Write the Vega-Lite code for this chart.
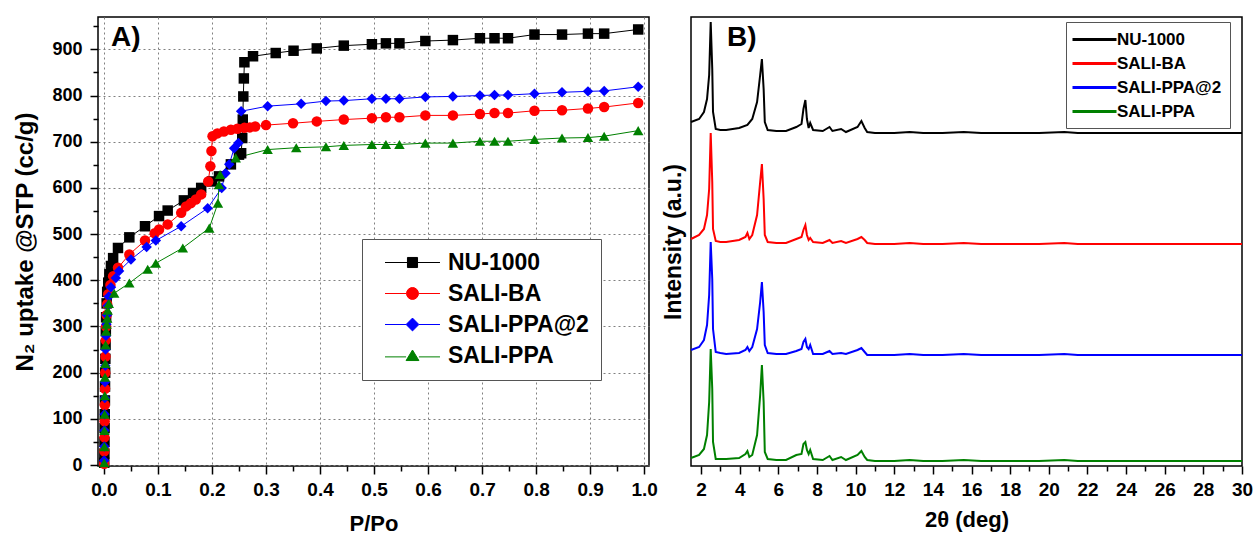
{
"$schema": "https://vega.github.io/schema/vega-lite/v6.json",
"background": "white",
"padding": {"left": 13, "top": 16, "right": 0, "bottom": 0},
"spacing": 2,
"config": {
  "font": "Liberation Sans",
  "view": {"stroke": "black", "strokeWidth": 1.5},
  "axis": {"labelFont": "Liberation Sans", "labelFontWeight": "bold", "labelColor": "black", "titleFont": "Liberation Sans", "titleFontWeight": "bold", "titleColor": "black", "tickColor": "black", "tickWidth": 1.5, "domain": false, "labelOverlap": false, "labelBound": false, "labelFlush": false}
},
"resolve": {"scale": {"color": "independent"}, "legend": {"color": "independent"}},
"datasets": {
"iso": [
{"s":"NU-1000","p":0.0005,"v":5},{"s":"NU-1000","p":0.0008,"v":25},{"s":"NU-1000","p":0.001,"v":50},{"s":"NU-1000","p":0.0012,"v":80},{"s":"NU-1000","p":0.0015,"v":110},{"s":"NU-1000","p":0.0018,"v":140},{"s":"NU-1000","p":0.002,"v":170},{"s":"NU-1000","p":0.0023,"v":200},{"s":"NU-1000","p":0.0026,"v":230},{"s":"NU-1000","p":0.003,"v":260},{"s":"NU-1000","p":0.0035,"v":290},{"s":"NU-1000","p":0.004,"v":320},{"s":"NU-1000","p":0.005,"v":350},{"s":"NU-1000","p":0.006,"v":375},{"s":"NU-1000","p":0.008,"v":395},{"s":"NU-1000","p":0.01,"v":413},{"s":"NU-1000","p":0.013,"v":431},{"s":"NU-1000","p":0.017,"v":448},{"s":"NU-1000","p":0.026,"v":470},{"s":"NU-1000","p":0.047,"v":493},{"s":"NU-1000","p":0.076,"v":517},{"s":"NU-1000","p":0.102,"v":539},{"s":"NU-1000","p":0.118,"v":551},{"s":"NU-1000","p":0.148,"v":573},{"s":"NU-1000","p":0.165,"v":589},{"s":"NU-1000","p":0.18,"v":600},{"s":"NU-1000","p":0.2,"v":614},{"s":"NU-1000","p":0.213,"v":625},{"s":"NU-1000","p":0.235,"v":651},{"s":"NU-1000","p":0.25,"v":672},{"s":"NU-1000","p":0.254,"v":675},{"s":"NU-1000","p":0.256,"v":708},{"s":"NU-1000","p":0.257,"v":748},{"s":"NU-1000","p":0.258,"v":798},{"s":"NU-1000","p":0.259,"v":837},{"s":"NU-1000","p":0.26,"v":872},{"s":"NU-1000","p":0.276,"v":885},{"s":"NU-1000","p":0.318,"v":892},{"s":"NU-1000","p":0.351,"v":897},{"s":"NU-1000","p":0.394,"v":902},{"s":"NU-1000","p":0.444,"v":908},{"s":"NU-1000","p":0.496,"v":911},{"s":"NU-1000","p":0.522,"v":913},{"s":"NU-1000","p":0.547,"v":913},{"s":"NU-1000","p":0.595,"v":918},{"s":"NU-1000","p":0.646,"v":920},{"s":"NU-1000","p":0.696,"v":924},{"s":"NU-1000","p":0.723,"v":924},{"s":"NU-1000","p":0.748,"v":924},{"s":"NU-1000","p":0.797,"v":932},{"s":"NU-1000","p":0.848,"v":932},{"s":"NU-1000","p":0.896,"v":934},{"s":"NU-1000","p":0.926,"v":934},{"s":"NU-1000","p":0.989,"v":943},
{"s":"SALI-BA","p":0.0004,"v":3},{"s":"SALI-BA","p":0.0007,"v":30},{"s":"SALI-BA","p":0.001,"v":60},{"s":"SALI-BA","p":0.0013,"v":95},{"s":"SALI-BA","p":0.0016,"v":130},{"s":"SALI-BA","p":0.002,"v":165},{"s":"SALI-BA","p":0.0024,"v":200},{"s":"SALI-BA","p":0.0028,"v":235},{"s":"SALI-BA","p":0.0033,"v":270},{"s":"SALI-BA","p":0.004,"v":300},{"s":"SALI-BA","p":0.005,"v":325},{"s":"SALI-BA","p":0.006,"v":348},{"s":"SALI-BA","p":0.008,"v":370},{"s":"SALI-BA","p":0.012,"v":390},{"s":"SALI-BA","p":0.017,"v":409},{"s":"SALI-BA","p":0.026,"v":427},{"s":"SALI-BA","p":0.047,"v":456},{"s":"SALI-BA","p":0.076,"v":486},{"s":"SALI-BA","p":0.094,"v":502},{"s":"SALI-BA","p":0.102,"v":510},{"s":"SALI-BA","p":0.118,"v":521},{"s":"SALI-BA","p":0.143,"v":546},{"s":"SALI-BA","p":0.152,"v":560},{"s":"SALI-BA","p":0.161,"v":567},{"s":"SALI-BA","p":0.17,"v":575},{"s":"SALI-BA","p":0.18,"v":586},{"s":"SALI-BA","p":0.193,"v":614},{"s":"SALI-BA","p":0.197,"v":647},{"s":"SALI-BA","p":0.199,"v":680},{"s":"SALI-BA","p":0.201,"v":712},{"s":"SALI-BA","p":0.21,"v":718},{"s":"SALI-BA","p":0.222,"v":722},{"s":"SALI-BA","p":0.235,"v":726},{"s":"SALI-BA","p":0.247,"v":728},{"s":"SALI-BA","p":0.26,"v":730},{"s":"SALI-BA","p":0.27,"v":731},{"s":"SALI-BA","p":0.28,"v":733},{"s":"SALI-BA","p":0.3,"v":736},{"s":"SALI-BA","p":0.35,"v":740},{"s":"SALI-BA","p":0.394,"v":744},{"s":"SALI-BA","p":0.444,"v":748},{"s":"SALI-BA","p":0.496,"v":751},{"s":"SALI-BA","p":0.522,"v":753},{"s":"SALI-BA","p":0.547,"v":753},{"s":"SALI-BA","p":0.595,"v":757},{"s":"SALI-BA","p":0.646,"v":757},{"s":"SALI-BA","p":0.696,"v":760},{"s":"SALI-BA","p":0.723,"v":762},{"s":"SALI-BA","p":0.748,"v":762},{"s":"SALI-BA","p":0.797,"v":767},{"s":"SALI-BA","p":0.848,"v":768},{"s":"SALI-BA","p":0.896,"v":772},{"s":"SALI-BA","p":0.926,"v":775},{"s":"SALI-BA","p":0.989,"v":784},
{"s":"SALI-PPA@2","p":0.0005,"v":10},{"s":"SALI-PPA@2","p":0.0008,"v":40},{"s":"SALI-PPA@2","p":0.001,"v":75},{"s":"SALI-PPA@2","p":0.0013,"v":110},{"s":"SALI-PPA@2","p":0.0016,"v":145},{"s":"SALI-PPA@2","p":0.002,"v":180},{"s":"SALI-PPA@2","p":0.0025,"v":215},{"s":"SALI-PPA@2","p":0.003,"v":250},{"s":"SALI-PPA@2","p":0.0037,"v":280},{"s":"SALI-PPA@2","p":0.0045,"v":305},{"s":"SALI-PPA@2","p":0.0055,"v":325},{"s":"SALI-PPA@2","p":0.007,"v":345},{"s":"SALI-PPA@2","p":0.009,"v":365},{"s":"SALI-PPA@2","p":0.013,"v":385},{"s":"SALI-PPA@2","p":0.022,"v":405},{"s":"SALI-PPA@2","p":0.028,"v":420},{"s":"SALI-PPA@2","p":0.05,"v":445},{"s":"SALI-PPA@2","p":0.079,"v":472},{"s":"SALI-PPA@2","p":0.096,"v":486},{"s":"SALI-PPA@2","p":0.143,"v":517},{"s":"SALI-PPA@2","p":0.192,"v":556},{"s":"SALI-PPA@2","p":0.218,"v":600},{"s":"SALI-PPA@2","p":0.225,"v":632},{"s":"SALI-PPA@2","p":0.232,"v":651},{"s":"SALI-PPA@2","p":0.241,"v":686},{"s":"SALI-PPA@2","p":0.249,"v":697},{"s":"SALI-PPA@2","p":0.254,"v":766},{"s":"SALI-PPA@2","p":0.303,"v":777},{"s":"SALI-PPA@2","p":0.365,"v":782},{"s":"SALI-PPA@2","p":0.411,"v":788},{"s":"SALI-PPA@2","p":0.444,"v":789},{"s":"SALI-PPA@2","p":0.496,"v":793},{"s":"SALI-PPA@2","p":0.522,"v":793},{"s":"SALI-PPA@2","p":0.547,"v":793},{"s":"SALI-PPA@2","p":0.595,"v":797},{"s":"SALI-PPA@2","p":0.646,"v":798},{"s":"SALI-PPA@2","p":0.696,"v":800},{"s":"SALI-PPA@2","p":0.723,"v":801},{"s":"SALI-PPA@2","p":0.748,"v":801},{"s":"SALI-PPA@2","p":0.797,"v":804},{"s":"SALI-PPA@2","p":0.848,"v":807},{"s":"SALI-PPA@2","p":0.896,"v":809},{"s":"SALI-PPA@2","p":0.926,"v":810},{"s":"SALI-PPA@2","p":0.989,"v":819},
{"s":"SALI-PPA","p":0.0005,"v":5},{"s":"SALI-PPA","p":0.0008,"v":40},{"s":"SALI-PPA","p":0.001,"v":75},{"s":"SALI-PPA","p":0.0013,"v":110},{"s":"SALI-PPA","p":0.0016,"v":150},{"s":"SALI-PPA","p":0.002,"v":190},{"s":"SALI-PPA","p":0.0025,"v":220},{"s":"SALI-PPA","p":0.003,"v":260},{"s":"SALI-PPA","p":0.004,"v":290},{"s":"SALI-PPA","p":0.005,"v":305},{"s":"SALI-PPA","p":0.006,"v":318},{"s":"SALI-PPA","p":0.007,"v":335},{"s":"SALI-PPA","p":0.009,"v":350},{"s":"SALI-PPA","p":0.019,"v":372},{"s":"SALI-PPA","p":0.047,"v":394},{"s":"SALI-PPA","p":0.081,"v":424},{"s":"SALI-PPA","p":0.096,"v":437},{"s":"SALI-PPA","p":0.146,"v":470},{"s":"SALI-PPA","p":0.195,"v":513},{"s":"SALI-PPA","p":0.211,"v":567},{"s":"SALI-PPA","p":0.213,"v":607},{"s":"SALI-PPA","p":0.215,"v":629},{"s":"SALI-PPA","p":0.244,"v":665},{"s":"SALI-PPA","p":0.303,"v":683},{"s":"SALI-PPA","p":0.356,"v":687},{"s":"SALI-PPA","p":0.411,"v":689},{"s":"SALI-PPA","p":0.444,"v":692},{"s":"SALI-PPA","p":0.496,"v":694},{"s":"SALI-PPA","p":0.522,"v":694},{"s":"SALI-PPA","p":0.547,"v":694},{"s":"SALI-PPA","p":0.595,"v":697},{"s":"SALI-PPA","p":0.646,"v":697},{"s":"SALI-PPA","p":0.696,"v":701},{"s":"SALI-PPA","p":0.723,"v":701},{"s":"SALI-PPA","p":0.748,"v":701},{"s":"SALI-PPA","p":0.797,"v":705},{"s":"SALI-PPA","p":0.848,"v":708},{"s":"SALI-PPA","p":0.896,"v":709},{"s":"SALI-PPA","p":0.926,"v":712},{"s":"SALI-PPA","p":0.989,"v":724}
],
"xrd": [
{"s":"NU-1000","t":1.48,"i":344},{"s":"NU-1000","t":1.9,"i":347},{"s":"NU-1000","t":2.15,"i":354},{"s":"NU-1000","t":2.31,"i":367},{"s":"NU-1000","t":2.42,"i":391},{"s":"NU-1000","t":2.5,"i":444},{"s":"NU-1000","t":2.58,"i":397},{"s":"NU-1000","t":2.62,"i":354},{"s":"NU-1000","t":2.76,"i":337},{"s":"NU-1000","t":3.0,"i":336},{"s":"NU-1000","t":3.3,"i":336},{"s":"NU-1000","t":3.97,"i":338},{"s":"NU-1000","t":4.4,"i":341},{"s":"NU-1000","t":4.65,"i":347},{"s":"NU-1000","t":4.9,"i":364},{"s":"NU-1000","t":5.06,"i":391},{"s":"NU-1000","t":5.15,"i":407},{"s":"NU-1000","t":5.24,"i":377},{"s":"NU-1000","t":5.3,"i":344},{"s":"NU-1000","t":5.45,"i":336},{"s":"NU-1000","t":5.9,"i":335},{"s":"NU-1000","t":6.4,"i":335},{"s":"NU-1000","t":6.93,"i":339},{"s":"NU-1000","t":7.2,"i":342},{"s":"NU-1000","t":7.3,"i":357},{"s":"NU-1000","t":7.4,"i":366},{"s":"NU-1000","t":7.48,"i":347},{"s":"NU-1000","t":7.57,"i":338},{"s":"NU-1000","t":7.65,"i":343},{"s":"NU-1000","t":7.8,"i":336},{"s":"NU-1000","t":8.3,"i":335},{"s":"NU-1000","t":8.65,"i":339},{"s":"NU-1000","t":8.8,"i":335},{"s":"NU-1000","t":9.25,"i":337},{"s":"NU-1000","t":9.5,"i":334},{"s":"NU-1000","t":10.1,"i":339},{"s":"NU-1000","t":10.3,"i":345},{"s":"NU-1000","t":10.47,"i":338},{"s":"NU-1000","t":10.6,"i":334},{"s":"NU-1000","t":11,"i":333},{"s":"NU-1000","t":12,"i":333},{"s":"NU-1000","t":12.8,"i":334},{"s":"NU-1000","t":13.5,"i":333},{"s":"NU-1000","t":14.5,"i":333},{"s":"NU-1000","t":15.6,"i":334},{"s":"NU-1000","t":16.5,"i":333},{"s":"NU-1000","t":17.5,"i":333},{"s":"NU-1000","t":18.5,"i":333},{"s":"NU-1000","t":19.5,"i":333},{"s":"NU-1000","t":20.8,"i":334},{"s":"NU-1000","t":21.5,"i":333},{"s":"NU-1000","t":22.5,"i":333},{"s":"NU-1000","t":23.5,"i":333},{"s":"NU-1000","t":24.5,"i":333},{"s":"NU-1000","t":25.5,"i":333},{"s":"NU-1000","t":26.5,"i":333},{"s":"NU-1000","t":27.5,"i":333},{"s":"NU-1000","t":28.5,"i":333},{"s":"NU-1000","t":29.5,"i":333},{"s":"NU-1000","t":30,"i":333},
{"s":"SALI-BA","t":1.48,"i":227},{"s":"SALI-BA","t":1.9,"i":231},{"s":"SALI-BA","t":2.15,"i":237},{"s":"SALI-BA","t":2.31,"i":251},{"s":"SALI-BA","t":2.42,"i":277},{"s":"SALI-BA","t":2.5,"i":333},{"s":"SALI-BA","t":2.58,"i":284},{"s":"SALI-BA","t":2.62,"i":237},{"s":"SALI-BA","t":2.76,"i":225},{"s":"SALI-BA","t":3.0,"i":224},{"s":"SALI-BA","t":3.3,"i":224},{"s":"SALI-BA","t":3.97,"i":226},{"s":"SALI-BA","t":4.3,"i":229},{"s":"SALI-BA","t":4.4,"i":233},{"s":"SALI-BA","t":4.5,"i":227},{"s":"SALI-BA","t":4.65,"i":231},{"s":"SALI-BA","t":4.9,"i":251},{"s":"SALI-BA","t":5.06,"i":284},{"s":"SALI-BA","t":5.15,"i":302},{"s":"SALI-BA","t":5.24,"i":267},{"s":"SALI-BA","t":5.3,"i":231},{"s":"SALI-BA","t":5.45,"i":224},{"s":"SALI-BA","t":5.9,"i":223},{"s":"SALI-BA","t":6.4,"i":223},{"s":"SALI-BA","t":6.93,"i":227},{"s":"SALI-BA","t":7.2,"i":229},{"s":"SALI-BA","t":7.3,"i":236},{"s":"SALI-BA","t":7.4,"i":241},{"s":"SALI-BA","t":7.48,"i":231},{"s":"SALI-BA","t":7.57,"i":226},{"s":"SALI-BA","t":7.65,"i":228},{"s":"SALI-BA","t":7.8,"i":224},{"s":"SALI-BA","t":8.3,"i":223},{"s":"SALI-BA","t":8.65,"i":226},{"s":"SALI-BA","t":8.8,"i":223},{"s":"SALI-BA","t":9.25,"i":225},{"s":"SALI-BA","t":9.5,"i":223},{"s":"SALI-BA","t":10.1,"i":227},{"s":"SALI-BA","t":10.3,"i":229},{"s":"SALI-BA","t":10.47,"i":226},{"s":"SALI-BA","t":10.6,"i":223},{"s":"SALI-BA","t":11,"i":222},{"s":"SALI-BA","t":12,"i":222},{"s":"SALI-BA","t":12.8,"i":223},{"s":"SALI-BA","t":13.5,"i":222},{"s":"SALI-BA","t":14.5,"i":222},{"s":"SALI-BA","t":15.6,"i":223},{"s":"SALI-BA","t":16.5,"i":222},{"s":"SALI-BA","t":17.5,"i":222},{"s":"SALI-BA","t":18.5,"i":222},{"s":"SALI-BA","t":19.5,"i":222},{"s":"SALI-BA","t":20.8,"i":223},{"s":"SALI-BA","t":21.5,"i":222},{"s":"SALI-BA","t":22.5,"i":222},{"s":"SALI-BA","t":23.5,"i":222},{"s":"SALI-BA","t":24.5,"i":222},{"s":"SALI-BA","t":25.5,"i":222},{"s":"SALI-BA","t":26.5,"i":222},{"s":"SALI-BA","t":27.5,"i":222},{"s":"SALI-BA","t":28.5,"i":222},{"s":"SALI-BA","t":29.5,"i":222},{"s":"SALI-BA","t":30,"i":222},
{"s":"SALI-PPA@2","t":1.48,"i":116},{"s":"SALI-PPA@2","t":1.9,"i":119},{"s":"SALI-PPA@2","t":2.15,"i":126},{"s":"SALI-PPA@2","t":2.31,"i":141},{"s":"SALI-PPA@2","t":2.42,"i":171},{"s":"SALI-PPA@2","t":2.5,"i":224},{"s":"SALI-PPA@2","t":2.58,"i":187},{"s":"SALI-PPA@2","t":2.62,"i":137},{"s":"SALI-PPA@2","t":2.76,"i":114},{"s":"SALI-PPA@2","t":3.0,"i":113},{"s":"SALI-PPA@2","t":3.3,"i":112},{"s":"SALI-PPA@2","t":3.97,"i":113},{"s":"SALI-PPA@2","t":4.3,"i":116},{"s":"SALI-PPA@2","t":4.4,"i":119},{"s":"SALI-PPA@2","t":4.5,"i":115},{"s":"SALI-PPA@2","t":4.65,"i":119},{"s":"SALI-PPA@2","t":4.9,"i":137},{"s":"SALI-PPA@2","t":5.06,"i":164},{"s":"SALI-PPA@2","t":5.15,"i":184},{"s":"SALI-PPA@2","t":5.24,"i":154},{"s":"SALI-PPA@2","t":5.3,"i":121},{"s":"SALI-PPA@2","t":5.45,"i":113},{"s":"SALI-PPA@2","t":5.9,"i":112},{"s":"SALI-PPA@2","t":6.4,"i":112},{"s":"SALI-PPA@2","t":6.93,"i":115},{"s":"SALI-PPA@2","t":7.2,"i":117},{"s":"SALI-PPA@2","t":7.3,"i":124},{"s":"SALI-PPA@2","t":7.4,"i":127},{"s":"SALI-PPA@2","t":7.48,"i":119},{"s":"SALI-PPA@2","t":7.57,"i":117},{"s":"SALI-PPA@2","t":7.65,"i":121},{"s":"SALI-PPA@2","t":7.8,"i":112},{"s":"SALI-PPA@2","t":8.3,"i":112},{"s":"SALI-PPA@2","t":8.65,"i":115},{"s":"SALI-PPA@2","t":8.8,"i":112},{"s":"SALI-PPA@2","t":9.25,"i":113},{"s":"SALI-PPA@2","t":9.5,"i":112},{"s":"SALI-PPA@2","t":10.1,"i":116},{"s":"SALI-PPA@2","t":10.3,"i":118},{"s":"SALI-PPA@2","t":10.47,"i":114},{"s":"SALI-PPA@2","t":10.6,"i":111},{"s":"SALI-PPA@2","t":11,"i":111},{"s":"SALI-PPA@2","t":12,"i":111},{"s":"SALI-PPA@2","t":12.8,"i":112},{"s":"SALI-PPA@2","t":13.5,"i":111},{"s":"SALI-PPA@2","t":14.5,"i":111},{"s":"SALI-PPA@2","t":15.6,"i":112},{"s":"SALI-PPA@2","t":16.5,"i":111},{"s":"SALI-PPA@2","t":17.5,"i":111},{"s":"SALI-PPA@2","t":18.5,"i":111},{"s":"SALI-PPA@2","t":19.5,"i":111},{"s":"SALI-PPA@2","t":20.8,"i":112},{"s":"SALI-PPA@2","t":21.5,"i":111},{"s":"SALI-PPA@2","t":22.5,"i":111},{"s":"SALI-PPA@2","t":23.5,"i":111},{"s":"SALI-PPA@2","t":24.5,"i":111},{"s":"SALI-PPA@2","t":25.5,"i":111},{"s":"SALI-PPA@2","t":26.5,"i":111},{"s":"SALI-PPA@2","t":27.5,"i":111},{"s":"SALI-PPA@2","t":28.5,"i":111},{"s":"SALI-PPA@2","t":29.5,"i":111},{"s":"SALI-PPA@2","t":30,"i":111},
{"s":"SALI-PPA","t":1.48,"i":8},{"s":"SALI-PPA","t":1.9,"i":11},{"s":"SALI-PPA","t":2.15,"i":17},{"s":"SALI-PPA","t":2.31,"i":31},{"s":"SALI-PPA","t":2.42,"i":64},{"s":"SALI-PPA","t":2.5,"i":117},{"s":"SALI-PPA","t":2.58,"i":77},{"s":"SALI-PPA","t":2.62,"i":24},{"s":"SALI-PPA","t":2.76,"i":7},{"s":"SALI-PPA","t":3.0,"i":7},{"s":"SALI-PPA","t":3.3,"i":7},{"s":"SALI-PPA","t":3.97,"i":8},{"s":"SALI-PPA","t":4.3,"i":12},{"s":"SALI-PPA","t":4.4,"i":15},{"s":"SALI-PPA","t":4.5,"i":9},{"s":"SALI-PPA","t":4.65,"i":11},{"s":"SALI-PPA","t":4.9,"i":31},{"s":"SALI-PPA","t":5.06,"i":71},{"s":"SALI-PPA","t":5.15,"i":101},{"s":"SALI-PPA","t":5.24,"i":64},{"s":"SALI-PPA","t":5.3,"i":14},{"s":"SALI-PPA","t":5.45,"i":7},{"s":"SALI-PPA","t":5.9,"i":6},{"s":"SALI-PPA","t":6.4,"i":6},{"s":"SALI-PPA","t":6.93,"i":11},{"s":"SALI-PPA","t":7.2,"i":12},{"s":"SALI-PPA","t":7.3,"i":22},{"s":"SALI-PPA","t":7.4,"i":24},{"s":"SALI-PPA","t":7.48,"i":16},{"s":"SALI-PPA","t":7.57,"i":12},{"s":"SALI-PPA","t":7.65,"i":16},{"s":"SALI-PPA","t":7.8,"i":7},{"s":"SALI-PPA","t":8.3,"i":6},{"s":"SALI-PPA","t":8.65,"i":10},{"s":"SALI-PPA","t":8.8,"i":6},{"s":"SALI-PPA","t":9.25,"i":9},{"s":"SALI-PPA","t":9.5,"i":6},{"s":"SALI-PPA","t":10.1,"i":11},{"s":"SALI-PPA","t":10.3,"i":15},{"s":"SALI-PPA","t":10.47,"i":9},{"s":"SALI-PPA","t":10.6,"i":6},{"s":"SALI-PPA","t":11,"i":5},{"s":"SALI-PPA","t":12,"i":5},{"s":"SALI-PPA","t":12.8,"i":6},{"s":"SALI-PPA","t":13.5,"i":5},{"s":"SALI-PPA","t":14.5,"i":5},{"s":"SALI-PPA","t":15.6,"i":6},{"s":"SALI-PPA","t":16.5,"i":5},{"s":"SALI-PPA","t":17.5,"i":5},{"s":"SALI-PPA","t":18.5,"i":5},{"s":"SALI-PPA","t":19.5,"i":5},{"s":"SALI-PPA","t":20.8,"i":6},{"s":"SALI-PPA","t":21.5,"i":5},{"s":"SALI-PPA","t":22.5,"i":5},{"s":"SALI-PPA","t":23.5,"i":5},{"s":"SALI-PPA","t":24.5,"i":5},{"s":"SALI-PPA","t":25.5,"i":5},{"s":"SALI-PPA","t":26.5,"i":5},{"s":"SALI-PPA","t":27.5,"i":5},{"s":"SALI-PPA","t":28.5,"i":5},{"s":"SALI-PPA","t":29.5,"i":5},{"s":"SALI-PPA","t":30,"i":5}
]
},
"hconcat": [
{
  "width": 551, "height": 449,
  "data": {"name": "iso"},
  "title": {"text": "A)", "anchor": "start", "frame": "group", "dx": 13, "offset": -35, "baseline": "top", "fontSize": 28, "fontWeight": "bold", "font": "Liberation Sans", "color": "black"},
  "encoding": {
    "x": {"field": "p", "type": "quantitative", "scale": {"domain": [-0.011, 1.009], "nice": false, "zero": false},
      "axis": {"title": "P/Po", "titleFontSize": 22, "titlePadding": 14, "labelFontSize": 19, "labelPadding": 6,
        "values": [0,0.05,0.1,0.15,0.2,0.25,0.3,0.35,0.4,0.45,0.5,0.55,0.6,0.65,0.7,0.75,0.8,0.85,0.9,0.95,1.0],
        "labelExpr": "abs(datum.value*10-round(datum.value*10))<0.001 ? format(datum.value,'.1f') : ''",
        "tickSize": {"condition": {"test": "abs(datum.value*10-round(datum.value*10))<0.001", "value": 8}, "value": 5},
        "grid": true, "gridColor": "#808080", "gridDash": [2, 3], "gridWidth": 1,
        "gridOpacity": {"condition": {"test": "abs(datum.value*10-round(datum.value*10))<0.001", "value": 1}, "value": 0}}},
    "y": {"field": "v", "type": "quantitative", "scale": {"domain": [-2, 970], "nice": false, "zero": false},
      "axis": {"title": "N₂ uptake @STP (cc/g)", "titleFontSize": 24, "titlePadding": 14, "labelFontSize": 18, "labelPadding": 8,
        "values": [0,50,100,150,200,250,300,350,400,450,500,550,600,650,700,750,800,850,900,950],
        "labelExpr": "datum.value % 100 === 0 ? datum.label : ''",
        "tickSize": {"condition": {"test": "datum.value % 100 === 0", "value": 8}, "value": 5},
        "grid": true, "gridColor": "#808080", "gridDash": [2, 3], "gridWidth": 1,
        "gridOpacity": {"condition": {"test": "datum.value % 100 === 0", "value": 1}, "value": 0}}},
    "color": {"field": "s", "type": "nominal",
      "scale": {"domain": ["NU-1000", "SALI-BA", "SALI-PPA@2", "SALI-PPA"], "range": ["#000000", "#ff0000", "#0000ff", "#008000"]},
      "legend": {"orient": "none", "legendX": 264, "legendY": 222, "title": null, "fillColor": "white", "strokeColor": "#555555",
        "padding": 12, "rowPadding": 7, "symbolSize": 336, "symbolStrokeWidth": 1, "symbolOffset": 27, "labelOffset": 24,
        "labelFontSize": 23, "labelFontWeight": "bold", "labelFont": "Liberation Sans", "labelColor": "black", "labelLimit": 400,
        "encode": {"symbols": {"update": {
          "shape": {"signal": "datum.value === 'NU-1000' ? 'M-3,0H-0.55M0.55,0H3M-0.55,-0.55H0.55V0.55H-0.55Z' : datum.value === 'SALI-BA' ? 'M-3,0H-0.65M0.65,0H3M0.65,0A0.65,0.65 0 1,1 -0.65,0A0.65,0.65 0 1,1 0.65,0Z' : datum.value === 'SALI-PPA@2' ? 'M-3,0H-0.7M0.7,0H3M0,-0.7L0.7,0L0,0.7L-0.7,0Z' : 'M-3,0.15H-0.7M0.7,0.15H3M0,-0.6L0.7,0.55L-0.7,0.55Z'"},
          "fill": {"signal": "datum.value === 'NU-1000' ? '#000000' : datum.value === 'SALI-BA' ? '#ff0000' : datum.value === 'SALI-PPA@2' ? '#0000ff' : '#008000'"},
          "stroke": {"signal": "datum.value === 'NU-1000' ? '#000000' : datum.value === 'SALI-BA' ? '#ff0000' : datum.value === 'SALI-PPA@2' ? '#0000ff' : '#008000'"},
          "opacity": {"value": 1}, "fillOpacity": {"value": 1}, "strokeWidth": {"value": 1}}}}}}
  },
  "layer": [
    {"mark": {"type": "line", "strokeWidth": 1}},
    {"mark": {"type": "point", "filled": true, "opacity": 1, "size": 110, "strokeWidth": 0},
     "encoding": {"shape": {"field": "s", "type": "nominal", "scale": {"domain": ["NU-1000", "SALI-BA", "SALI-PPA@2", "SALI-PPA"], "range": ["square", "circle", "diamond", "triangle-up"]}, "legend": null}}}
  ]
},
{
  "width": 551, "height": 449,
  "data": {"name": "xrd"},
  "title": {"text": "B)", "anchor": "start", "frame": "group", "dx": 36, "offset": -35, "baseline": "top", "fontSize": 28, "fontWeight": "bold", "font": "Liberation Sans", "color": "black"},
  "mark": {"type": "line", "strokeWidth": 2},
  "encoding": {
    "x": {"field": "t", "type": "quantitative", "scale": {"domain": [1.48, 30], "nice": false, "zero": false},
      "axis": {"title": "2θ (deg)", "titleFontSize": 22, "titlePadding": 10, "labelFontSize": 19, "labelPadding": 6,
        "values": [2,3,4,5,6,7,8,9,10,11,12,13,14,15,16,17,18,19,20,21,22,23,24,25,26,27,28,29,30],
        "labelExpr": "datum.value % 2 === 0 ? datum.label : ''",
        "tickSize": {"condition": {"test": "datum.value % 2 === 0", "value": 8}, "value": 5},
        "grid": false}},
    "y": {"field": "i", "type": "quantitative", "scale": {"domain": [0, 449], "nice": false, "zero": false},
      "axis": {"title": "Intensity (a.u.)", "titleFontSize": 23, "titlePadding": 6, "labels": false, "ticks": false, "grid": false}},
    "color": {"field": "s", "type": "nominal",
      "scale": {"domain": ["NU-1000", "SALI-BA", "SALI-PPA@2", "SALI-PPA"], "range": ["#000000", "#ff0000", "#0000ff", "#008000"]},
      "legend": {"orient": "none", "legendX": 375, "legendY": 5, "title": null, "fillColor": "white", "strokeColor": "#555555",
        "padding": 8, "rowPadding": 6, "symbolSize": 256, "symbolStrokeWidth": 3, "symbolOffset": 11, "labelOffset": 13,
        "labelFontSize": 17, "labelFontWeight": "bold", "labelFont": "Liberation Sans", "labelColor": "black", "labelLimit": 400,
        "encode": {"symbols": {"update": {
          "shape": {"value": "M-2.75,0H2.75"},
          "stroke": {"signal": "datum.value === 'NU-1000' ? '#000000' : datum.value === 'SALI-BA' ? '#ff0000' : datum.value === 'SALI-PPA@2' ? '#0000ff' : '#008000'"},
          "strokeWidth": {"value": 3}, "opacity": {"value": 1}}}}}}
  }
}
]
}
